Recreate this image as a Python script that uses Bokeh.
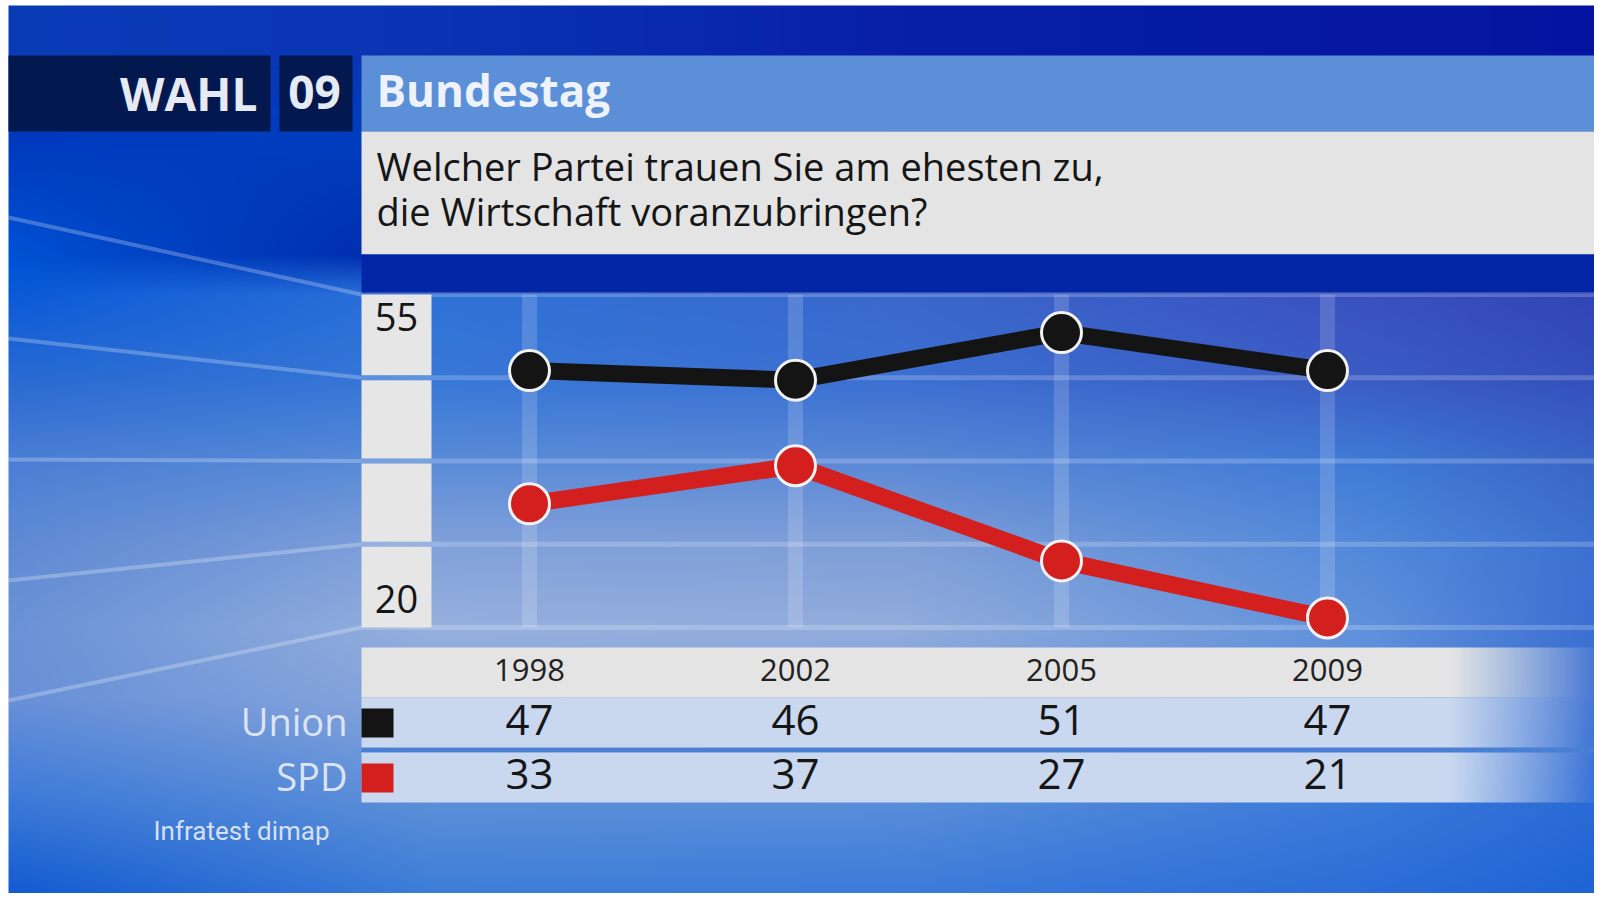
import numpy as np
from bokeh.plotting import figure
from bokeh.models import Range1d
from bokeh.core.properties import value
from bokeh.embed import file_html
from bokeh.resources import INLINE

# ---------------- data ----------------
years = ["1998", "2002", "2005", "2009"]
union = [47, 46, 51, 47]
spd = [33, 37, 27, 21]
series_names = ["Union", "SPD"]
series_colors = ["#141414", "#D41F1F"]
y_ticks = [55, 20]
y_tick_labels = ["55", "20"]
y_min, y_max = 20, 55
title_left = "WAHL"
title_num = "09"
title_topic = "Bundestag"
question = ["Welcher Partei trauen Sie am ehesten zu,", "die Wirtschaft voranzubringen?"]
source = "Infratest dimap"

# ---------------- layout (picture pixels) ----------------
W, H = 1594, 893
BG_X0, BG_Y0 = 8, 5
X_FIRST, X_STEP = 529, 266
Y_TOP, Y_BOT = 294, 627
K = (Y_BOT - Y_TOP) / (y_max - y_min)
FONT = value("Open Sans")


def vy(v):
    return Y_TOP + (y_max - v) * K


def bl(y, size, f=0.39):
    # wanted baseline (picture px) -> text anchor in py units
    return -(y - f * size)


idx = list(range(len(years)))

p = figure(width=W, height=H,
           x_range=Range1d(-X_FIRST / X_STEP, (W - X_FIRST) / X_STEP),
           y_range=Range1d(y_max - (H - Y_TOP) / K, y_max + Y_TOP / K),
           output_backend="svg", toolbar_location=None, min_border=0)
p.extra_x_ranges = {"px": Range1d(0, W)}
p.extra_y_ranges = {"py": Range1d(-H, 0)}
p.axis.visible = False
p.grid.visible = False
p.outline_line_color = None
p.background_fill_color = "white"
p.border_fill_color = "white"

# ---------------- background gradient ----------------
RES = 2
w_img, h_img = (W - BG_X0) // RES, (H - BG_Y0) // RES
xs = np.linspace(BG_X0, W, w_img)
ys = np.linspace(H, BG_Y0, h_img)
stops_y = [5, 55, 131, 254, 293, 380, 460, 540, 627, 700, 800, 901]
prof_x = [8, 430, 900, 1380, 1602]
prof_cols = [
    ["#0B3CB8", "#0B3CB8", "#0038BC", "#0052D4", "#0A5AD8", "#2A6AD2", "#4A7ED4", "#5E8AD4", "#6A92D6", "#6890D8", "#3C7AD8", "#1058D0"],
    ["#0A34B4", "#0A34B4", "#0040C0", "#0028A8", "#2E72D8", "#3878D8", "#5A8CD8", "#80A0DA", "#96B0DE", "#88A6DC", "#5E90D8", "#3A7CD8"],
    ["#0820A8", "#0820A8", "#0A30B0", "#0024A8", "#3A68CC", "#3C70D2", "#5A88D6", "#7E9ED8", "#92ACDC", "#80A2DC", "#5A8EDA", "#3A7ADA"],
    ["#0618A2", "#0618A2", "#0A28AA", "#0022A6", "#3A50C0", "#3A5CC4", "#3E7AD6", "#5088DA", "#5E90DC", "#5A8CDA", "#3A7ADA", "#2A6CD8"],
    ["#0514A0", "#0514A0", "#0820A6", "#0020A6", "#3244B6", "#3450BC", "#3A64C6", "#3C70D0", "#3A6ED2", "#3A6ED2", "#2A6AD6", "#1E62D4"],
]


def hx(c):
    return [int(c[1:3], 16), int(c[3:5], 16), int(c[5:7], 16)]


P = np.array([[hx(c) for c in col] for col in prof_cols], dtype=float)
V = np.zeros((len(prof_x), h_img, 3))
for i in range(len(prof_x)):
    for c in range(3):
        V[i, :, c] = np.interp(ys, stops_y, P[i, :, c])
img = np.zeros((h_img, w_img, 3))
for r in range(h_img):
    for c in range(3):
        img[r, :, c] = np.interp(xs, prof_x, V[:, r, c])


def to_rgba(arr3, alpha):
    hh, ww = arr3.shape[:2]
    out = np.empty((hh, ww), dtype=np.uint32)
    vv = out.view(dtype=np.uint8).reshape((hh, ww, 4))
    vv[..., 0:3] = np.clip(arr3, 0, 255).astype(np.uint8)
    vv[..., 3] = alpha
    return out


p.image_rgba(image=[to_rgba(img, 255)], x=BG_X0, y=-H, dw=W - BG_X0, dh=H - BG_Y0,
             x_range_name="px", y_range_name="py")


# ---------------- header boxes ----------------
def box(l, r, t, b, color, alpha=1.0):
    p.quad(left=l, right=r, top=-t, bottom=-b, fill_color=color, fill_alpha=alpha,
           line_color=None, x_range_name="px", y_range_name="py")


box(8, 270, 55, 131, "#02184E")
box(279, 352, 55, 131, "#02184E")
box(361, W, 55, 131, "#5B8FD8")
box(361, W, 131, 254, "#E4E4E4")
box(361, W, 254, 293, "#0226A6")

# ---------------- grid ----------------
grid_vals = list(np.linspace(y_max, y_min, 5))
left_y = [217, 338, 459, 580, 700]
p.segment(x0=[8] * 5, y0=[-v for v in left_y], x1=[361] * 5, y1=[-vy(g) for g in grid_vals],
          line_color="white", line_alpha=0.25, line_width=4,
          x_range_name="px", y_range_name="py")
p.segment(x0=[361] * 5, x1=[W] * 5, y0=grid_vals, y1=grid_vals,
          line_color="white", line_alpha=0.2, line_width=5, x_range_name="px")
p.segment(x0=idx, x1=idx, y0=[y_min] * 4, y1=[y_max] * 4,
          line_color="white", line_alpha=0.16, line_width=15, line_cap="butt")

gap = 2.5 / K
tops = [grid_vals[0]] + [g - gap for g in grid_vals[1:-1]]
bots = [g + gap for g in grid_vals[1:-1]] + [grid_vals[-1]]
p.quad(left=361, right=431, top=tops, bottom=bots, fill_color="#E6E6E6",
       line_color=None, x_range_name="px")

p.text(x=[396, 396], y=[bl(vy(y_ticks[0]) + 37, 38), bl(vy(y_ticks[1]) - 14, 38)],
       text=y_tick_labels, text_font=FONT, text_font_size="38px", text_color="#161616",
       text_align="center", text_baseline="alphabetic",
       x_range_name="px", y_range_name="py")

# ---------------- series ----------------
for vals, col in zip([union, spd], series_colors):
    p.line(x=idx, y=vals, line_color=col, line_width=17, line_join="round")
    p.scatter(x=idx, y=vals, size=40, fill_color=col, line_color="#F2F2F2", line_width=3)

# ---------------- table ----------------
TAB_X0, FADE0 = 361, 1450
rows = [(647, 697, "#E4E4E4"), (697, 747, "#C9D7EF"), (752, 802, "#C9D7EF")]
box(TAB_X0, W, 747, 752, "#4A80D4")
nf = W - TAB_X0
alpha_row = np.clip(255 - (np.arange(nf) + TAB_X0 - FADE0).clip(0) * (235.0 / (W - FADE0)), 20, 255).astype(np.uint8)
for (t, b, c) in rows:
    strip = np.tile(np.array(hx(c), dtype=float), (1, nf, 1))
    rgba = to_rgba(strip, 0)
    vv = rgba.view(dtype=np.uint8).reshape((1, nf, 4))
    vv[0, :, 3] = alpha_row
    p.image_rgba(image=[rgba], x=TAB_X0, y=-b, dw=nf, dh=b - t,
                 x_range_name="px", y_range_name="py")

p.text(x=idx, y=[bl(682, 31)] * 4, text=years, text_font=FONT, text_font_size="31px",
       text_color="#222222", text_align="center", text_baseline="alphabetic",
       y_range_name="py")
for vals, base in zip([union, spd], [736, 790]):
    p.text(x=idx, y=[bl(base, 42)] * 4, text=[str(v) for v in vals], text_font=FONT,
           text_font_size="42px", text_color="#161616", text_align="center",
           text_baseline="alphabetic", y_range_name="py")

# legend squares + names
p.quad(left=[361, 361], right=[393, 393], top=[-708, -763], bottom=[-737, -792],
       fill_color=series_colors, line_color=None, x_range_name="px", y_range_name="py")
p.text(x=[347, 347], y=[bl(735, 38), bl(790, 38)], text=series_names, text_font=FONT,
       text_font_size="38px", text_color="#DCE4F2", text_align="right",
       text_baseline="alphabetic", x_range_name="px", y_range_name="py")

# ---------------- titles ----------------
p.text(x=[257], y=[bl(110, 46)], text=[title_left], text_font=FONT, text_font_size="46px",
       text_font_style="bold", text_color="#E6EAF2", text_align="right",
       text_baseline="alphabetic", x_range_name="px", y_range_name="py")
p.text(x=[314], y=[bl(110, 46)], text=[title_num], text_font=FONT, text_font_size="46px",
       text_font_style="bold", text_color="#E6EAF2", text_align="center",
       text_baseline="alphabetic", x_range_name="px", y_range_name="py")
p.text(x=[376], y=[bl(107, 44)], text=[title_topic], text_font=FONT, text_font_size="44px",
       text_font_style="bold", text_color="#EEF2FA", text_align="left",
       text_baseline="alphabetic", x_range_name="px", y_range_name="py")
p.text(x=[376, 376], y=[bl(180, 38), bl(225, 38)], text=question, text_font=FONT,
       text_font_size="38px", text_color="#161616", text_align="left",
       text_baseline="alphabetic", x_range_name="px", y_range_name="py")
p.text(x=[153], y=[bl(841, 26, 0.4)], text=[source], text_font=value("Roboto"),
       text_font_size="26px", text_color="#D6E0F2", text_align="left",
       text_baseline="alphabetic", x_range_name="px", y_range_name="py")

open("out.html", "w").write(file_html(p, INLINE))
